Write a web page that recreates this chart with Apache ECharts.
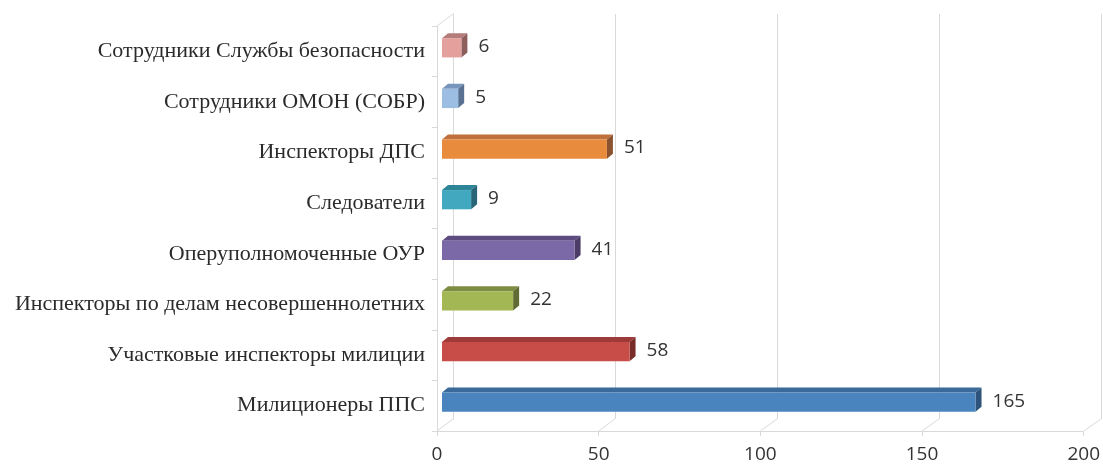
<!DOCTYPE html>
<html>
<head>
<meta charset="utf-8">
<script src="https://cdn.jsdelivr.net/npm/echarts@6/dist/echarts.min.js"></script>
<style>
  html, body { margin: 0; padding: 0; background: #fff; }
  #main { width: 1103px; height: 467px; }
</style>
</head>
<body>
<div id="main"></div>
<script>
  // bottom to top, as on the chart
  const categories = [
    'Милиционеры ППС',
    'Участковые инспекторы милиции',
    'Инспекторы по делам несовершеннолетних',
    'Оперуполномоченные ОУР',
    'Следователи',
    'Инспекторы ДПС',
    'Сотрудники ОМОН (СОБР)',
    'Сотрудники Службы безопасности'
  ];
  const values = [165, 58, 22, 41, 9, 51, 5, 6];
  const xTicks = [0, 50, 100, 150, 200];

  // front / top / side colours for each bar
  const faces = [
    ['#4a84bf', '#3a6a99', '#2d537a'],
    ['#c84d49', '#9e3a37', '#7a2c2a'],
    ['#a3b755', '#7d8c42', '#5f6b33'],
    ['#7b68a6', '#5e4c80', '#4a3c66'],
    ['#42a8c0', '#2f8598', '#276577'],
    ['#e98b3d', '#c0703a', '#8b5230'],
    ['#9dbee3', '#7896bb', '#5a7291'],
    ['#e3a09d', '#b57d7a', '#8c5e5c']
  ];

  const gridColor = '#d9d9d9';
  const depthX = 16, depthY = 12;

  const chartDom = document.getElementById('main');
  const myChart = echarts.init(chartDom);

  const option = {
    animation: false,
    grid: [
      { left: 437, right: 18, top: 26, bottom: 36 },
      { left: 437 + depthX, right: 18 - depthX, top: 26 - depthY, bottom: 36 + depthY }
    ],
    xAxis: [
      {
        gridIndex: 0,
        type: 'value',
        min: 0,
        max: 200,
        interval: 50,
        axisLine: { show: true, lineStyle: { color: gridColor } },
        axisTick: { show: true, length: 5, lineStyle: { color: gridColor } },
        splitLine: { show: false },
        axisLabel: {
          color: '#333',
          fontFamily: 'Open Sans',
          fontSize: 19,
          margin: 14
        }
      },
      {
        gridIndex: 1,
        type: 'value',
        min: 0,
        max: 200,
        interval: 50,
        axisLine: { show: false },
        axisTick: { show: false },
        axisLabel: { show: false },
        splitLine: { show: true, lineStyle: { color: gridColor } }
      }
    ],
    yAxis: [
      {
        gridIndex: 0,
        type: 'category',
        data: categories,
        axisLine: { show: true, lineStyle: { color: gridColor } },
        axisTick: { show: true, length: 5, lineStyle: { color: gridColor } },
        axisLabel: {
          color: '#2b2b2b',
          fontFamily: 'Liberation Serif',
          fontSize: 22,
          margin: 12
        }
      },
      {
        gridIndex: 1,
        type: 'category',
        data: categories,
        axisLine: { show: true, lineStyle: { color: gridColor } },
        axisTick: { show: false },
        axisLabel: { show: false }
      }
    ],
    series: [
      {
        type: 'custom',
        xAxisIndex: 0,
        yAxisIndex: 0,
        data: values.map((v, i) => [i, v]),
        encode: { x: 1, y: 0 },
        renderItem: (params, api) => {
          const cat = api.value(0);
          const val = api.value(1);
          const p0 = api.coord([0, cat]);
          const p1 = api.coord([val, cat]);
          const h = api.size([0, 1])[1] * 0.38;
          const dx = 6, dy = 5;
          const x0 = p0[0] + 5;
          const x1 = p1[0] + 5;
          const yc = p0[1] - 3.5;
          const top = yc - h / 2;
          const bot = yc + h / 2;
          const c = faces[params.dataIndex];
          return {
            type: 'group',
            children: [
              {
                type: 'polygon',
                shape: { points: [[x0, top], [x0 + dx, top - dy], [x1 + dx, top - dy], [x1, top]] },
                style: { fill: c[1] }
              },
              {
                type: 'polygon',
                shape: { points: [[x1, top], [x1 + dx, top - dy], [x1 + dx, bot - dy], [x1, bot]] },
                style: { fill: c[2] }
              },
              {
                type: 'rect',
                shape: { x: x0, y: top, width: x1 - x0, height: h },
                style: { fill: c[0] }
              },
              {
                type: 'text',
                style: {
                  text: String(val),
                  x: x1 + dx + 11,
                  y: yc - 1,
                  verticalAlign: 'middle',
                  fontFamily: 'Open Sans',
                  fontSize: 19,
                  fill: '#333'
                }
              }
            ]
          };
        }
      }
    ]
  };
  myChart.setOption(option);

  // slanted edges joining the front axes to the back wall
  const pxX = (axis, v) => myChart.convertToPixel({ xAxisIndex: axis }, v);
  const pxY = (axis, v) => myChart.convertToPixel({ yAxisIndex: axis }, v);
  const halfBand = (axis) => (pxY(axis, 0) - pxY(axis, 1)) / 2;
  const frontBottom = pxY(0, 0) + halfBand(0);
  const backBottom = pxY(1, 0) + halfBand(1);
  const last = categories.length - 1;
  const frontTop = pxY(0, last) - halfBand(0);
  const backTop = pxY(1, last) - halfBand(1);

  const edges = xTicks.map(t => [[pxX(0, t), frontBottom], [pxX(1, t), backBottom]]);
  edges.push([[pxX(0, 0), frontTop], [pxX(1, 0), backTop]]);

  myChart.setOption({
    graphic: edges.map(e => ({
      type: 'line',
      silent: true,
      z: 0,
      shape: { x1: e[0][0], y1: e[0][1], x2: e[1][0], y2: e[1][1] },
      style: { stroke: gridColor, lineWidth: 1 }
    }))
  });
</script>
</body>
</html>
